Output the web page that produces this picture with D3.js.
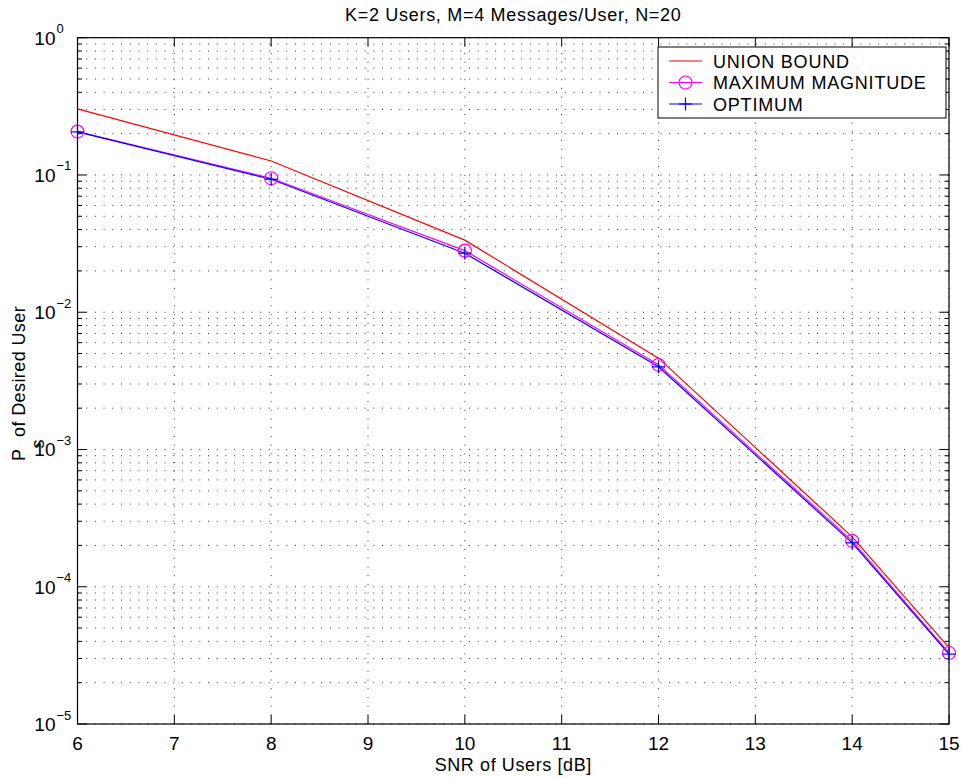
<!DOCTYPE html>
<html>
<head>
<meta charset="utf-8">
<script src="https://cdn.jsdelivr.net/npm/d3@7"></script>
<style>
  body { margin: 0; background: #fff; }
  text { font-family: "Liberation Sans", Arial, Helvetica, sans-serif; fill: #000; }
</style>
</head>
<body>
<svg id="chart" width="962" height="778"></svg>
<script>
// ---- data ----
const snr = [6, 8, 10, 12, 14, 15];
const unionBound = [0.303, 0.1265, 0.0335, 0.00463, 2.31e-4, 3.6e-5];
const maxMagnitude = [0.207, 0.0946, 0.0281, 0.00414, 2.16e-4, 3.29e-5];
const optimum = [0.206, 0.0931, 0.0269, 0.0040, 2.09e-4, 3.23e-5];
const xTicks = [6, 7, 8, 9, 10, 11, 12, 13, 14, 15];
const yExponents = [0, -1, -2, -3, -4, -5];
const titleText = "K=2 Users, M=4 Messages/User, N=20";
const xLabelText = "SNR of Users [dB]";
const legendNames = ["UNION BOUND", "MAXIMUM MAGNITUDE", "OPTIMUM"];

// ---- layout ----
const L = 77.5, R = 949, T = 37.7, B = 724;
const svg = d3.select("#chart");
const x = d3.scaleLinear().domain([6, 15]).range([L, R]);
const y = d3.scaleLog().domain([1e-5, 1]).range([B, T]);

// grid
const grid = svg.append("g").attr("stroke", "#000").attr("stroke-width", 1)
  .attr("stroke-dasharray", "1 7.7").attr("fill", "none").attr("opacity", 0.8);
xTicks.forEach(t => {
  grid.append("line").attr("x1", x(t)).attr("x2", x(t)).attr("y1", B).attr("y2", T);
});
const minorY = [];
for (let k = -5; k < 0; k++) for (let j = 1; j <= 9; j++) minorY.push(j * Math.pow(10, k));
minorY.push(1);
minorY.forEach(v => {
  grid.append("line").attr("x1", L).attr("x2", R).attr("y1", y(v)).attr("y2", y(v));
});

// ticks
const ticks = svg.append("g").attr("stroke", "#000").attr("stroke-width", 1);
xTicks.forEach(t => {
  ticks.append("line").attr("x1", x(t)).attr("x2", x(t)).attr("y1", B).attr("y2", B - 9);
  ticks.append("line").attr("x1", x(t)).attr("x2", x(t)).attr("y1", T).attr("y2", T + 9);
});
minorY.forEach(v => {
  const major = Math.abs(Math.log10(v) - Math.round(Math.log10(v))) < 1e-9;
  const len = major ? 9 : 4.5;
  ticks.append("line").attr("x1", L).attr("x2", L + len).attr("y1", y(v)).attr("y2", y(v));
  ticks.append("line").attr("x1", R).attr("x2", R - len).attr("y1", y(v)).attr("y2", y(v));
});

// axis box
svg.append("rect").attr("x", L).attr("y", T).attr("width", R - L).attr("height", B - T)
  .attr("fill", "none").attr("stroke", "#000").attr("stroke-width", 1.2);

// x tick labels
svg.append("g").selectAll("text").data(xTicks).join("text")
  .attr("x", d => x(d)).attr("y", 749.5).attr("text-anchor", "middle")
  .attr("font-size", 19).text(d => d);

// y tick labels
const yl = svg.append("g");
yExponents.forEach(e => {
  const yy = y(Math.pow(10, e));
  yl.append("text").attr("x", 55.5).attr("y", yy + 7).attr("text-anchor", "end")
    .attr("font-size", 19).text("10");
  yl.append("text").attr("x", 56.5).attr("y", yy - 4.5).attr("text-anchor", "start")
    .attr("font-size", 13).text(e === 0 ? "0" : "\u2212" + Math.abs(e));
});

// title and axis labels
svg.append("text").attr("x", (L + R) / 2).attr("y", 21).attr("text-anchor", "middle")
  .attr("font-size", 18).attr("letter-spacing", 0.7).text(titleText);
svg.append("text").attr("x", (L + R) / 2).attr("y", 771).attr("text-anchor", "middle")
  .attr("font-size", 18).attr("letter-spacing", 0.6).text(xLabelText);
// y label: "P" + subscript "s" + " of Desired User"
svg.append("text").attr("transform", `translate(25,461) rotate(-90)`)
  .attr("text-anchor", "start").attr("font-size", 18).text("P");
svg.append("text").attr("transform", `translate(44,448.5) rotate(-90)`)
  .attr("text-anchor", "start").attr("font-size", 18).text("s");
svg.append("text").attr("transform", `translate(25,437) rotate(-90)`)
  .attr("text-anchor", "start").attr("font-size", 18).attr("letter-spacing", 0.4)
  .text("of Desired User");

// lines
const lineGen = vals => d3.line().x((d, i) => x(snr[i])).y(d => y(d))(vals);
const series = [
  { vals: unionBound, color: "#ff0000", marker: null },
  { vals: maxMagnitude, color: "#ff00ff", marker: "circle" },
  { vals: optimum, color: "#0000ff", marker: "plus" }
];
const plot = svg.append("g");
series.forEach(s => {
  plot.append("path").attr("d", lineGen(s.vals)).attr("fill", "none")
    .attr("stroke", s.color).attr("stroke-width", 1.2);
});
function drawMarker(g, type, cx, cy, color) {
  if (type === "circle") {
    g.append("circle").attr("cx", cx).attr("cy", cy).attr("r", 6.5)
      .attr("fill", "none").attr("stroke", color).attr("stroke-width", 1.2);
  } else if (type === "plus") {
    g.append("line").attr("x1", cx - 6.5).attr("x2", cx + 6.5).attr("y1", cy).attr("y2", cy)
      .attr("stroke", color).attr("stroke-width", 1.2);
    g.append("line").attr("x1", cx).attr("x2", cx).attr("y1", cy - 6.5).attr("y2", cy + 6.5)
      .attr("stroke", color).attr("stroke-width", 1.2);
  }
}
series.forEach(s => {
  if (!s.marker) return;
  s.vals.forEach((v, i) => drawMarker(plot, s.marker, x(snr[i]), y(v), s.color));
});

// legend
const lg = svg.append("g");
lg.append("rect").attr("x", 658).attr("y", 47).attr("width", 288).attr("height", 71)
  .attr("fill", "#fff").attr("stroke", "#000").attr("stroke-width", 1);
const rowsY = [61, 82.5, 104];
series.forEach((s, i) => {
  const ry = rowsY[i];
  lg.append("line").attr("x1", 669).attr("x2", 702).attr("y1", ry).attr("y2", ry)
    .attr("stroke", s.color).attr("stroke-width", 1.2);
  if (s.marker) drawMarker(lg, s.marker, 685.5, ry, s.color);
  lg.append("text").attr("x", 713).attr("y", ry + 6.5).attr("font-size", 18)
    .attr("letter-spacing", 0.8).text(legendNames[i]);
});
</script>
</body>
</html>
